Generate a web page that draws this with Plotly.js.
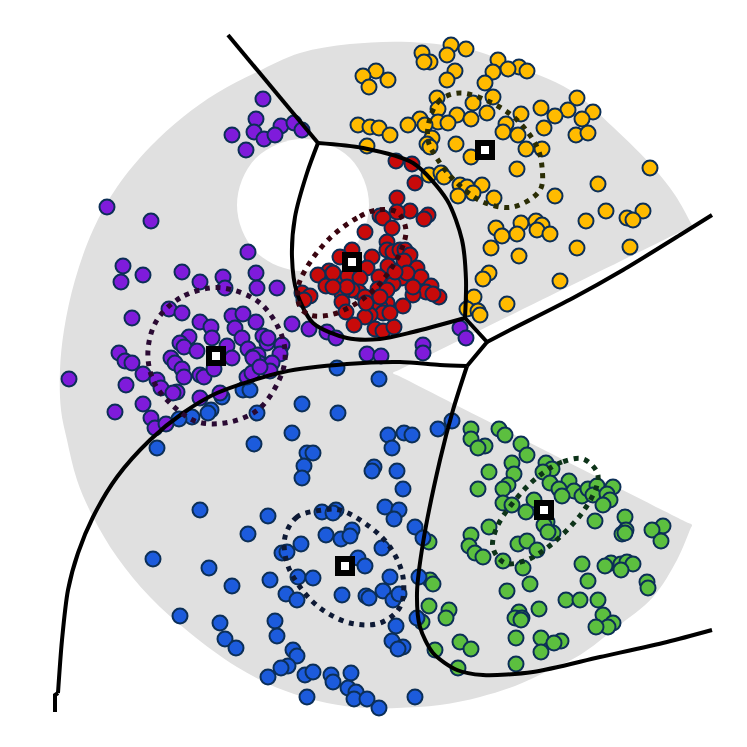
<!DOCTYPE html>
<html>
<head>
<meta charset="utf-8">
<script src="https://cdn.plot.ly/plotly-3.0.1.min.js"></script>
<style>body{margin:0;background:#fff}</style>
</head>
<body>
<div id="myGraph" style="width:747px;height:747px"></div>
<script>
//all values, axes run 0-747 with y pointing down
const yellowX = [451,466,422,447,430,424,498,519,527,508,493,455,447,485,376,363,388,369,437,493,473,438,457,487,521,541,577,568,555,593,582,420,471,438,448,425,408,358,370,379,390,506,503,518,544,576,588,432,427,430,367,456,471,526,542,517,650,429,441,444,598,460,482,467,473,458,494,555,606,643,627,633,586,521,536,542,496,502,517,537,550,491,519,577,630,489,483,560,474,507,467,478,480];
const yellowY = [45,49,53,55,62,62,60,67,71,69,72,71,80,83,71,76,80,87,98,97,103,109,115,113,114,108,98,110,116,112,119,119,119,122,123,125,125,125,127,128,135,124,132,135,128,135,133,138,144,147,146,144,157,149,149,169,168,175,173,177,184,185,185,187,193,196,198,196,211,211,218,220,221,223,221,225,228,236,234,230,234,248,256,248,247,273,279,281,297,304,309,311,315];

const redX = [396,412,415,397,410,397,428,424,380,383,392,365,387,387,393,400,405,410,352,340,372,417,404,388,367,329,318,326,339,348,360,379,421,402,393,431,426,413,439,433,378,359,352,342,342,346,365,387,403,380,383,370,365,354,375,383,394,302,310,304,333,347,387,366,390,407,413,395,380,333];
const redY = [161,164,183,198,211,212,215,219,216,218,228,232,242,250,252,250,250,255,250,257,257,268,261,266,268,271,275,286,281,276,278,277,277,278,284,286,292,295,297,294,289,292,290,294,302,312,297,303,306,307,313,315,317,325,329,331,327,293,296,300,273,287,290,303,313,273,287,272,297,287];

const purpleX = [263,256,281,294,302,254,232,264,275,246,107,151,248,123,143,121,182,200,223,225,256,257,277,132,169,182,200,232,243,256,292,309,327,336,211,212,235,242,189,180,184,197,227,263,267,268,282,280,119,125,132,171,175,232,248,253,258,259,272,270,182,184,200,204,214,143,247,252,69,126,157,161,177,173,200,220,143,115,151,155,166,253,260,460,466,423,423,367,381];
const purpleY = [99,119,126,123,130,132,135,139,135,150,207,221,252,266,275,282,272,282,277,288,273,288,288,318,309,313,322,316,314,322,324,329,332,338,327,338,328,338,337,343,347,351,346,336,343,338,345,354,353,361,363,358,363,358,349,357,355,363,363,371,369,377,375,377,369,374,377,373,379,385,380,388,392,393,398,393,404,412,418,428,424,358,367,328,338,345,353,354,356];

const blueX = [337,379,302,338,243,250,222,211,192,179,208,257,157,254,292,388,404,412,438,392,307,313,304,302,374,372,397,403,200,268,385,399,394,322,336,333,248,415,423,326,341,352,350,301,382,282,287,358,365,153,209,232,270,298,313,390,419,383,342,366,369,286,297,393,399,417,180,220,396,275,277,225,236,392,403,398,293,297,288,281,268,305,313,331,333,351,348,356,354,367,379,307,415,452];
const blueY = [368,379,404,413,390,390,397,410,417,419,413,413,448,444,433,435,433,435,429,448,453,453,466,478,467,471,471,489,510,516,507,510,519,512,510,513,534,527,538,535,539,530,536,544,548,553,552,558,566,559,568,586,580,577,578,577,577,591,595,596,598,594,600,600,594,618,616,623,626,621,636,639,648,641,647,649,650,656,666,668,677,675,672,675,682,673,688,692,699,699,708,697,697,421];

const greenX = [471,471,499,505,485,478,521,527,512,546,552,543,489,514,478,550,569,559,574,508,503,562,582,588,597,613,593,607,610,603,534,503,512,526,547,544,489,595,625,663,652,626,622,625,661,471,553,548,469,518,527,537,475,483,503,523,582,611,605,621,627,633,621,588,647,648,530,430,433,507,566,580,598,539,429,449,446,519,515,522,521,603,613,608,596,422,460,471,516,541,561,554,541,435,516,458,429];
const greenY = [429,439,429,435,446,448,444,455,463,463,469,472,472,474,489,483,481,489,491,485,489,496,496,489,486,487,495,494,500,505,500,503,505,512,522,525,527,521,517,526,530,530,534,533,541,535,533,532,546,544,541,550,553,557,561,568,564,563,566,564,562,564,570,581,582,588,584,580,584,591,600,600,600,609,606,610,618,612,618,618,620,615,623,627,627,622,642,649,638,638,641,643,652,650,664,668,542];

const centerX = [485,352,216,345,544];
const centerY = [150,262,356,566,510];

//grey fan and the white hole in it, close pairs keep the three corners sharp
const fanX = [393,400,685,692,690.5,675,653,613,570,510,473,410,350,300,257,217,183,150,117,93,75,64,60,61,67,77,93,117,150,190,237,283,327,365,397,440,480,515,550,580,617,653,677,690.5,692,685,400,393];
const fanY = [373,369.5,229.5,226,222.5,195,167,127,90,64,50,42,44,53,72,93,117,147,187,230,280,330,370,410,440,480,517,557,597,633,667,690,703,708,708,705,697,686,670,655,627,597,560,528.5,525,521.5,376.5,373];
const holeX = [303,328,350,364,369,364,350,328,303,278,256,242,237,242,256,278,303];
const holeY = [139,144,158,180,205,230,252,266,271,266,252,230,205,180,158,144,139];

//boundaries between the regions
const edgeTopX = [228,318];
const edgeTopY = [35,143];
const cellTopX = [318,363,413,447,462,466,465];
const cellTopY = [143,148,163,200,240,280,318];
const cellLowX = [465,413,380,347,313,297,292,295,307,318];
const cellLowY = [318,332,339,338,323,293,257,217,173,143];
const linkX = [465,487,467];
const linkY = [318,342,366];
const edgeRightX = [487,510,573,623,680,712];
const edgeRightY = [342,330,298,270,235,215];
const edgeLeftX = [467,440,400,347,283,217,183,150,117,93,78,68,62,58];
const edgeLeftY = [366,365,362,364,372,393,413,440,477,517,553,590,640,693];
const edgeStubX = [58,55,55];
const edgeStubY = [693,695,712];
const edgeBottomX = [467,453,440,423,417,420,433,457,483,533,600,667,712];
const edgeBottomY = [366,410,460,543,593,627,653,670,675,672,657,642,630];

//dotted loops round each cluster
const loopYellowX = [460,440,430,428,438,457,483,513,540,542,537,517,490,460];
const loopYellowY = [93,100,118,140,160,183,202,207,190,167,147,120,102,93];
const loopRedX = [377,357,330,307,298,300,310,330,350,368,383,400,406,403,397,377];
const loopRedY = [210,218,238,267,288,307,315,315,307,295,280,253,232,220,212,210];
const loopPurpleX = [210,180,157,148,153,172,198,230,260,282,285,278,260,233,210];
const loopPurpleY = [288,298,320,350,380,405,422,422,408,373,350,327,303,290,288];
const loopBlueX = [323,297,285,287,300,320,350,380,400,403,390,370,340,323];
const loopBlueY = [510,517,537,563,587,608,623,623,607,577,547,527,510,510];
const loopGreenX = [583,562,543,522,497,493,505,527,553,582,597,597,583];
const loopGreenY = [459,462,473,492,527,548,563,560,543,513,485,472,459];

function area(x, y, color) {
  return {x: x, y: y, mode: "lines", fill: "toself", fillcolor: color, hoverinfo: "skip",
    line: {width: 0, color: color, shape: "spline", smoothing: 1, simplify: false}};
}
function points(x, y, color) {
  return {x: x, y: y, mode: "markers", type: "scatter",
    marker: {size: 15, color: color, line: {width: 2, color: "#0c2f57"}}};
}
function edge(x, y) {
  return {x: x, y: y, mode: "lines", line: {color: "#000", width: 4, shape: "spline", smoothing: 0.8, simplify: false}};
}
function straight(x, y) {
  return {x: x, y: y, mode: "lines", line: {color: "#000", width: 4, simplify: false}};
}
function loop(x, y, color) {
  return {x: x, y: y, mode: "lines", line: {color: color, width: 5, dash: "5px,5.7px", shape: "spline", smoothing: 1, simplify: false}};
}

var dataArray = [
  area(fanX, fanY, "#e0e0e0"),
  area(holeX, holeY, "#ffffff"),
  points(redX, redY, "#c80a0a"),
  points(yellowX, yellowY, "#ffbb00"),
  points(greenX, greenY, "#5cbf3f"),
  points(blueX, blueY, "#1c5bdc"),
  points(purpleX, purpleY, "#7f1bdb"),
  straight(edgeTopX, edgeTopY),
  edge(cellTopX, cellTopY),
  edge(cellLowX, cellLowY),
  straight(linkX, linkY),
  edge(edgeRightX, edgeRightY),
  edge(edgeLeftX, edgeLeftY),
  straight(edgeStubX, edgeStubY),
  edge(edgeBottomX, edgeBottomY),
  loop(loopYellowX, loopYellowY, "#2a2d05"),
  loop(loopRedX, loopRedY, "#3a0510"),
  loop(loopPurpleX, loopPurpleY, "#2a0a33"),
  loop(loopBlueX, loopBlueY, "#0e1a35"),
  loop(loopGreenX, loopGreenY, "#0d3319"),
  {x: centerX, y: centerY, mode: "markers",
    marker: {symbol: "square", size: 14, color: "#fff", line: {width: 6, color: "#000"}}}
];

var layout = {
  width: 747,
  height: 747,
  margin: {l: 0, r: 0, t: 0, b: 0},
  showlegend: false,
  paper_bgcolor: "#fff",
  plot_bgcolor: "#fff",
  xaxis: {range: [0, 747], visible: false, fixedrange: true},
  yaxis: {range: [747, 0], visible: false, fixedrange: true},
};

Plotly.newPlot("myGraph", dataArray, layout, {displayModeBar: false, staticPlot: true});
</script>
</body>
</html>
